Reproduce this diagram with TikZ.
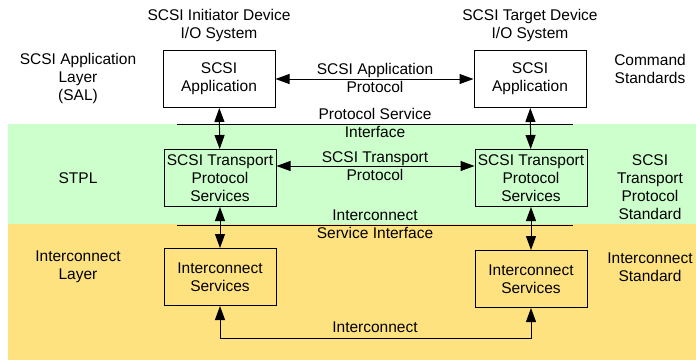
\documentclass[tikz,border=0pt]{standalone}
\usepackage{fontspec}
\setmainfont{Liberation Sans}
\usetikzlibrary{arrows.meta}
\definecolor{stplgreen}{RGB}{204,255,204}
\definecolor{icyellow}{RGB}{255,226,128}

\begin{document}
\begin{tikzpicture}[x=1pt,y=-1pt,
	txt/.style={font=\fontsize{15.5}{18}\selectfont,align=center,inner sep=0pt},
	blk/.style={txt,draw,line width=1pt,minimum width=112pt,minimum height=57pt},
	dbl/.style={line width=1pt,{Triangle[length=14pt,width=10pt]}-{Triangle[length=14pt,width=10pt]}}]
	\useasboundingbox (0,0) rectangle (696,360);
	% layer bands
	\fill[stplgreen] (8,124) rectangle (696,224);
	\fill[icyellow] (8,224) rectangle (696,360);
	% service interface lines
	\draw[line width=1pt] (177,124) -- (573,124);
	\draw[line width=1pt] (177,225) -- (573,225);
	% column headings
	\node[txt] (ini) at (219,25) {SCSI Initiator Device\\I/O System};
	\node[txt] (tgt) at (530,25) {SCSI Target Device\\I/O System};
	% layer names
	\node[txt] (sal) at (78,78) {SCSI Application\\Layer\\(SAL)};
	\node[txt] (stpl) at (78,178) {STPL};
	\node[txt] (icl) at (78,267) {Interconnect\\Layer};
	\node[txt] (cmdstd) at (650,69) {Command\\Standards};
	\node[txt] (stpstd) at (650,187) {SCSI\\Transport\\Protocol\\Standard};
	\node[txt] (icstd) at (650,267) {Interconnect\\Standard};
	% boxes
	\node[blk] (appL) at (219,79) {SCSI\\Application};
	\node[blk] (appR) at (530,79) {SCSI\\Application};
	\node[blk] (stpL) at (220,178) {SCSI Transport\\Protocol\\Services};
	\node[blk] (stpR) at (531,178) {SCSI Transport\\Protocol\\Services};
	\node[blk] (icL) at (220,277) {Interconnect\\Services};
	\node[blk] (icR) at (531,279) {Interconnect\\Services};
	% protocols
	\node[txt] (sap) at (375,78) {SCSI Application\\Protocol};
	\draw[dbl] (appL) -- (appR);
	\node[txt] (stp) at (375,166) {SCSI Transport\\Protocol};
	\draw[dbl] (stpL.east |- stp) -- (stpR.west |- stp);
	\node[txt] (psi) at (375,123) {Protocol Service\\Interface};
	\node[txt] (isi) at (375,224) {Interconnect\\Service Interface};
	% vertical links
	\draw[dbl] (appL) -- (stpL);
	\draw[dbl] (appR) -- (stpR);
	\draw[dbl] (stpL) -- (icL);
	\draw[dbl] (stpR) -- (icR);
	% interconnect
	\draw[dbl] (icL.south) -- ++(0,32) -| (icR.south);
	\node[txt] (ic) at (375,327) {Interconnect};
\end{tikzpicture}
\end{document}
